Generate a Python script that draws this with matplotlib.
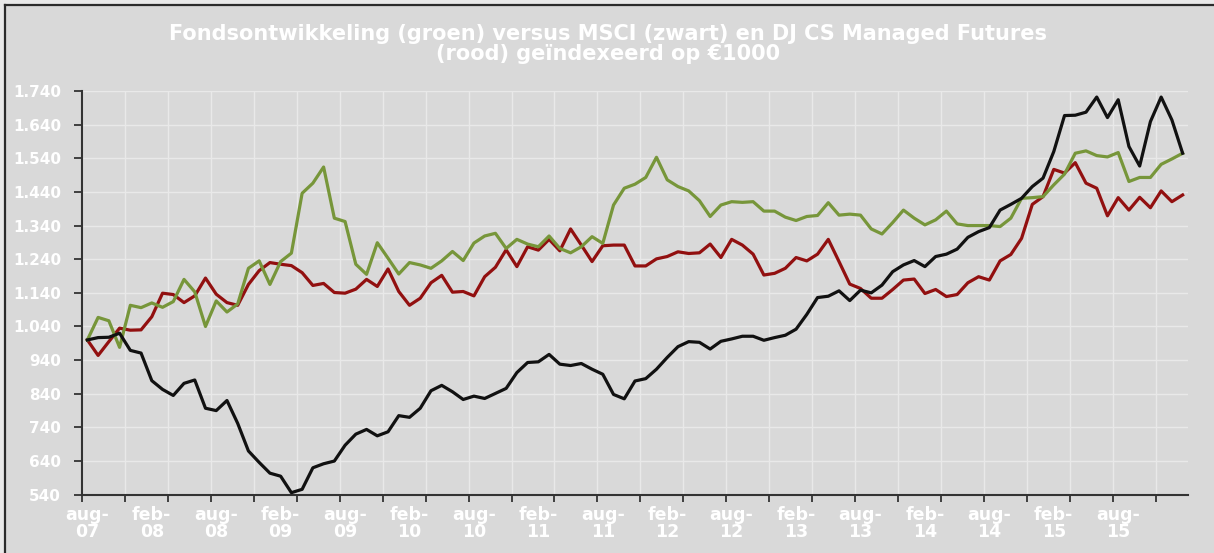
import matplotlib
matplotlib.use("Agg")
import matplotlib.pyplot as plt
from matplotlib.patches import Rectangle
from matplotlib.lines import Line2D

# monthly index values, aug-07 .. feb-16 (103 points)
msci = [1000, 1007, 1008, 1020, 969, 961, 879, 853, 835, 871, 881, 797, 790, 820, 752,
        670, 636, 604, 595, 546, 556, 620, 632, 640, 687, 720, 734, 715, 727, 775,
        770, 797, 849, 865, 846, 823, 833, 826, 841, 856, 903, 933, 935, 957, 928,
        924, 930, 913, 898, 838, 825, 878, 885, 913, 948, 980, 995, 993, 973, 996,
        1003, 1011, 1011, 999, 1007, 1014, 1032, 1076, 1126, 1130, 1146, 1117, 1148, 1140, 1163,
        1203, 1223, 1236, 1218, 1248, 1255, 1270, 1305, 1322, 1334, 1386, 1403, 1421, 1456, 1481,
        1560, 1667, 1668, 1677, 1722, 1661, 1714, 1575, 1517, 1649, 1722, 1654, 1555]

fonds = [1000, 1067, 1057, 978, 1103, 1096, 1110, 1097, 1114, 1180, 1143, 1040, 1116, 1083, 1107,
         1213, 1235, 1165, 1233, 1258, 1436, 1466, 1514, 1362, 1352, 1225, 1195, 1289, 1243, 1196,
         1230, 1223, 1213, 1235, 1263, 1236, 1288, 1309, 1317, 1272, 1299, 1285, 1277, 1309, 1272,
         1259, 1277, 1307, 1287, 1401, 1451, 1463, 1483, 1543, 1476, 1456, 1443, 1414, 1367, 1401,
         1411, 1409, 1411, 1383, 1383, 1365, 1355, 1367, 1370, 1408, 1371, 1374, 1371, 1330, 1315,
         1349, 1386, 1362, 1342, 1357, 1383, 1345, 1340, 1340, 1340, 1337, 1362, 1421, 1423, 1426,
         1461, 1493, 1555, 1562, 1548, 1544, 1557, 1471, 1483, 1483, 1522, 1538, 1555]

dj_cs = [1000, 954, 995, 1035, 1029, 1030, 1069, 1139, 1135, 1111, 1131, 1184, 1136, 1111, 1103,
         1165, 1206, 1230, 1225, 1221, 1200, 1162, 1168, 1141, 1139, 1151, 1180, 1159, 1211, 1144,
         1103, 1124, 1170, 1192, 1142, 1144, 1131, 1188, 1216, 1268, 1218, 1277, 1267, 1299, 1265,
         1330, 1282, 1233, 1280, 1282, 1282, 1220, 1220, 1241, 1248, 1262, 1257, 1259, 1285, 1245,
         1299, 1282, 1255, 1193, 1198, 1213, 1245, 1235, 1255, 1299, 1233, 1166, 1153, 1124, 1124,
         1150, 1178, 1181, 1138, 1150, 1129, 1135, 1170, 1188, 1178, 1235, 1254, 1302, 1403, 1426,
         1507, 1496, 1527, 1466, 1451, 1369, 1423, 1386, 1424, 1393, 1443, 1411, 1431]

x_labels = ["aug-\n07", "feb-\n08", "aug-\n08", "feb-\n09", "aug-\n09", "feb-\n10",
            "aug-\n10", "feb-\n11", "aug-\n11", "feb-\n12", "aug-\n12", "feb-\n13",
            "aug-\n13", "feb-\n14", "aug-\n14", "feb-\n15", "aug-\n15"]
y_ticks = list(range(540, 1741, 100))

title = ("Fondsontwikkeling (groen) versus MSCI (zwart) en DJ CS Managed Futures\n"
         "(rood) geïndexeerd op €1000")

plt.rcParams["font.family"] = ["DejaVu Sans"]

W, H = 1214, 553
fig = plt.figure(figsize=(W / 100, H / 100), dpi=100)
fig.patch.set_facecolor("#D9D9D9")
# lighter strip outside the chart box, dark border on left and top
fig.add_artist(Rectangle((0, 1 - 5 / H), 1, 5 / H, transform=fig.transFigure,
                         facecolor="#E9E9E9", edgecolor="none", zorder=-5))
fig.add_artist(Rectangle((0, 0), 5 / W, 1, transform=fig.transFigure,
                         facecolor="#E9E9E9", edgecolor="none", zorder=-5))
fig.add_artist(Line2D([5 / W, 5 / W], [0, 1 - 5 / H], transform=fig.transFigure,
                      color="#2B2B2B", lw=1.6))
fig.add_artist(Line2D([5 / W, 1], [1 - 5 / H, 1 - 5 / H], transform=fig.transFigure,
                      color="#2B2B2B", lw=1.6))

ax = fig.add_axes([82 / W, 1 - 494.7 / H, (1188 - 82) / W, (494.7 - 91) / H])
ax.set_facecolor("none")

n = len(msci)
xs = list(range(n))
ax.plot(xs, dj_cs, color="#921010", lw=2.3, zorder=3)
ax.plot(xs, fonds, color="#77963A", lw=2.3, zorder=3)
ax.plot(xs, msci, color="#111111", lw=2.3, zorder=4)

ax.set_xlim(-0.5, n - 0.5)
ax.set_ylim(540, 1740)

tick_pos = [-0.5 + 4 * k for k in range(26)]
label_pos = list(range(0, 6 * len(x_labels), 6))
ax.set_xticks(tick_pos)
ax.set_xticklabels([])
ax.set_xticks(label_pos, minor=True)
ax.set_xticklabels(x_labels, minor=True, color="white", fontsize=12.5,
                   fontweight="bold", linespacing=0.95)
ax.tick_params(axis="x", which="major", direction="out", length=5, width=1.3, color="#333333")
ax.tick_params(axis="x", which="minor", length=0, pad=8)

ax.set_yticks(y_ticks)
ax.set_yticklabels([f"{v:,}".replace(",", ".") for v in y_ticks], color="white",
                   fontsize=11, fontweight="bold")
ax.tick_params(axis="y", direction="out", length=6, width=1.3, color="#333333", pad=9)

ax.grid(True, which="major", color="#E9E9E9", lw=1.0, zorder=1)
ax.set_axisbelow(True)
for s in ("top", "right"):
    ax.spines[s].set_visible(False)
for s in ("left", "bottom"):
    ax.spines[s].set_color("#333333")
    ax.spines[s].set_linewidth(1.5)

fig.text(608 / W, 1 - 44 / H, title, ha="center", va="center", color="white",
         fontsize=15, fontweight="bold", linespacing=1.0)

fig.savefig("out.png", dpi=100, facecolor=fig.get_facecolor())
